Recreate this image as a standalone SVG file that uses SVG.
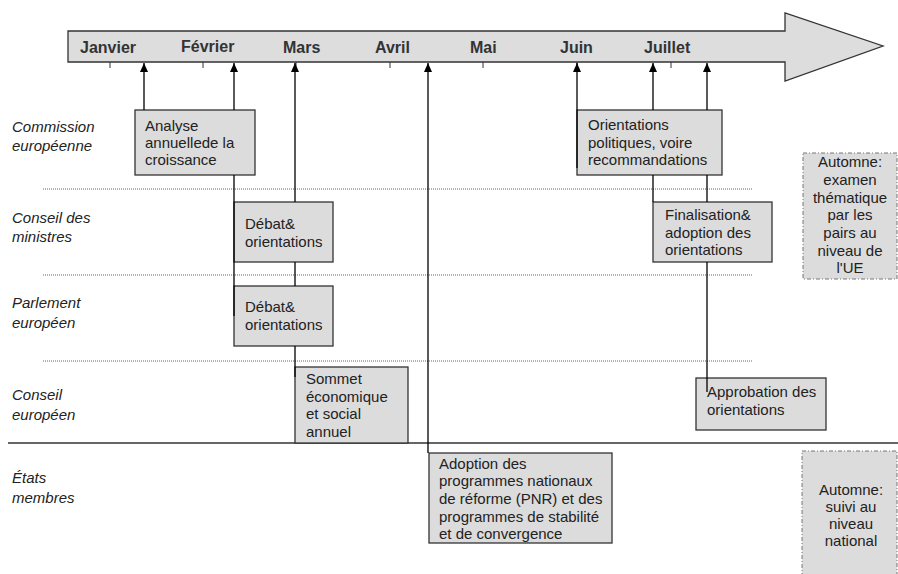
<svg xmlns="http://www.w3.org/2000/svg" width="898" height="574" viewBox="0 0 898 574">
<defs>
<style>
text{font-family:"Liberation Sans",Arial,sans-serif;fill:#222;}
.m{font-size:16px;font-weight:bold;fill:#333;}
.lab{font-size:15px;font-style:italic;}
.t{font-size:15px;}
.c{text-anchor:middle;}
.box{fill:#dcdcdc;stroke:#333;stroke-width:1.3;}
.dbox{fill:#dcdcdc;stroke:#777;stroke-width:1;stroke-dasharray:4 2 1 2;}
.dot{stroke:#666;stroke-width:1;stroke-dasharray:1 1;}
.ln{stroke:#000;stroke-width:1.3;fill:none;}
.tick{stroke:#333;stroke-width:1;}
</style>
<marker id="ah" viewBox="0 0 9 8" refX="9" refY="4" markerWidth="9" markerHeight="8" markerUnits="userSpaceOnUse" orient="auto">
<path d="M0,0 L9,4 L0,8 Z" fill="#000"/>
</marker>
</defs>

<g id="timeline">
<polygon points="68,31 785,31 785,13 883,46 785,81 785,62 68,62" fill="#dddddd" stroke="#333" stroke-width="1.3"/>
<g class="tick">
<line x1="110" y1="62" x2="110" y2="68"/>
<line x1="203" y1="62" x2="203" y2="68"/>
<line x1="296" y1="62" x2="296" y2="68"/>
<line x1="390" y1="62" x2="390" y2="68"/>
<line x1="483" y1="62" x2="483" y2="68"/>
<line x1="577" y1="62" x2="577" y2="68"/>
<line x1="671" y1="62" x2="671" y2="68"/>
</g>
<text class="m" x="80" y="53">Janvier</text>
<text class="m" x="181" y="52">Février</text>
<text class="m" x="283" y="53">Mars</text>
<text class="m" x="375" y="53">Avril</text>
<text class="m" x="470" y="53">Mai</text>
<text class="m" x="560" y="53">Juin</text>
<text class="m" x="644" y="53">Juillet</text>
</g>

<g id="rows">
<line class="dot" x1="43" y1="189" x2="753" y2="189"/>
<line class="dot" x1="43" y1="275" x2="753" y2="275"/>
<line class="dot" x1="43" y1="361" x2="753" y2="361"/>
<line x1="8" y1="443" x2="898" y2="443" stroke="#333" stroke-width="1.3"/>
<text class="lab" x="12" y="132">Commission</text>
<text class="lab" x="12" y="151">européenne</text>
<text class="lab" x="12" y="223">Conseil des</text>
<text class="lab" x="12" y="242">ministres</text>
<text class="lab" x="12" y="308">Parlement</text>
<text class="lab" x="12" y="328">européen</text>
<text class="lab" x="12" y="400">Conseil</text>
<text class="lab" x="12" y="420">européen</text>
<text class="lab" x="12" y="483">États</text>
<text class="lab" x="12" y="503">membres</text>
</g>

<g id="analyse">
<rect class="box" x="135" y="110" width="120" height="65"/>
<text class="t" x="145" y="131">Analyse</text>
<text class="t" x="145" y="148">annuellede la</text>
<text class="t" x="145" y="165">croissance</text>
</g>
<g id="debat1">
<rect class="box" x="234" y="202" width="99" height="60"/>
<text class="t" x="245" y="229">Débat&amp;</text>
<text class="t" x="245" y="247">orientations</text>
</g>
<g id="debat2">
<rect class="box" x="234" y="286" width="99" height="60"/>
<text class="t" x="245" y="312">Débat&amp;</text>
<text class="t" x="245" y="330">orientations</text>
</g>
<g id="sommet">
<rect class="box" x="295" y="367" width="113" height="76"/>
<text class="t" x="306" y="384">Sommet</text>
<text class="t" x="306" y="402">économique</text>
<text class="t" x="306" y="419">et social</text>
<text class="t" x="306" y="437">annuel</text>
</g>
<g id="adoption">
<rect class="box" x="429" y="453" width="183" height="90"/>
<text class="t" x="439" y="469">Adoption des</text>
<text class="t" x="439" y="486">programmes nationaux</text>
<text class="t" x="439" y="504">de réforme (PNR) et des</text>
<text class="t" x="439" y="522">programmes de stabilité</text>
<text class="t" x="439" y="539">et de convergence</text>
</g>
<g id="orientations">
<rect class="box" x="577" y="110" width="145" height="65"/>
<text class="t" x="588" y="130">Orientations</text>
<text class="t" x="588" y="148">politiques, voire</text>
<text class="t" x="588" y="165">recommandations</text>
</g>
<g id="finalisation">
<rect class="box" x="653" y="202" width="119" height="60"/>
<text class="t" x="665" y="220">Finalisation&amp;</text>
<text class="t" x="665" y="238">adoption des</text>
<text class="t" x="665" y="255">orientations</text>
</g>
<g id="approbation">
<rect class="box" x="696" y="378" width="130" height="52"/>
<text class="t" x="707" y="397">Approbation des</text>
<text class="t" x="707" y="415">orientations</text>
</g>
<g id="automne1">
<rect class="dbox" x="803" y="153" width="94" height="126"/>
<text class="t c" x="850" y="167">Automne:</text>
<text class="t c" x="850" y="185">examen</text>
<text class="t c" x="850" y="203">thématique</text>
<text class="t c" x="850" y="220">par les</text>
<text class="t c" x="850" y="238">pairs au</text>
<text class="t c" x="850" y="256">niveau de</text>
<text class="t c" x="850" y="273">l'UE</text>
</g>
<g id="automne2">
<rect class="dbox" x="802" y="451" width="95" height="130"/>
<text class="t c" x="851" y="495">Automne:</text>
<text class="t c" x="851" y="512">suivi au</text>
<text class="t c" x="851" y="529">niveau</text>
<text class="t c" x="851" y="546">national</text>
</g>

<g id="connectors" class="ln">
<line x1="144" y1="110" x2="144" y2="63" marker-end="url(#ah)"/>
<line x1="234" y1="110" x2="234" y2="63" marker-end="url(#ah)"/>
<line x1="234" y1="175" x2="234" y2="316"/>
<line x1="295" y1="202" x2="295" y2="63" marker-end="url(#ah)"/>
<line x1="295" y1="262" x2="295" y2="286"/>
<line x1="295" y1="346" x2="295" y2="377"/>
<line x1="428" y1="453" x2="428" y2="63" marker-end="url(#ah)"/>
<line x1="577" y1="168" x2="577" y2="63" marker-end="url(#ah)"/>
<line x1="653" y1="110" x2="653" y2="63" marker-end="url(#ah)"/>
<line x1="653" y1="175" x2="653" y2="202"/>
<line x1="707" y1="110" x2="707" y2="63" marker-end="url(#ah)"/>
<line x1="707" y1="175" x2="707" y2="202"/>
<line x1="707" y1="262" x2="707" y2="392"/>
</g>
</svg>
